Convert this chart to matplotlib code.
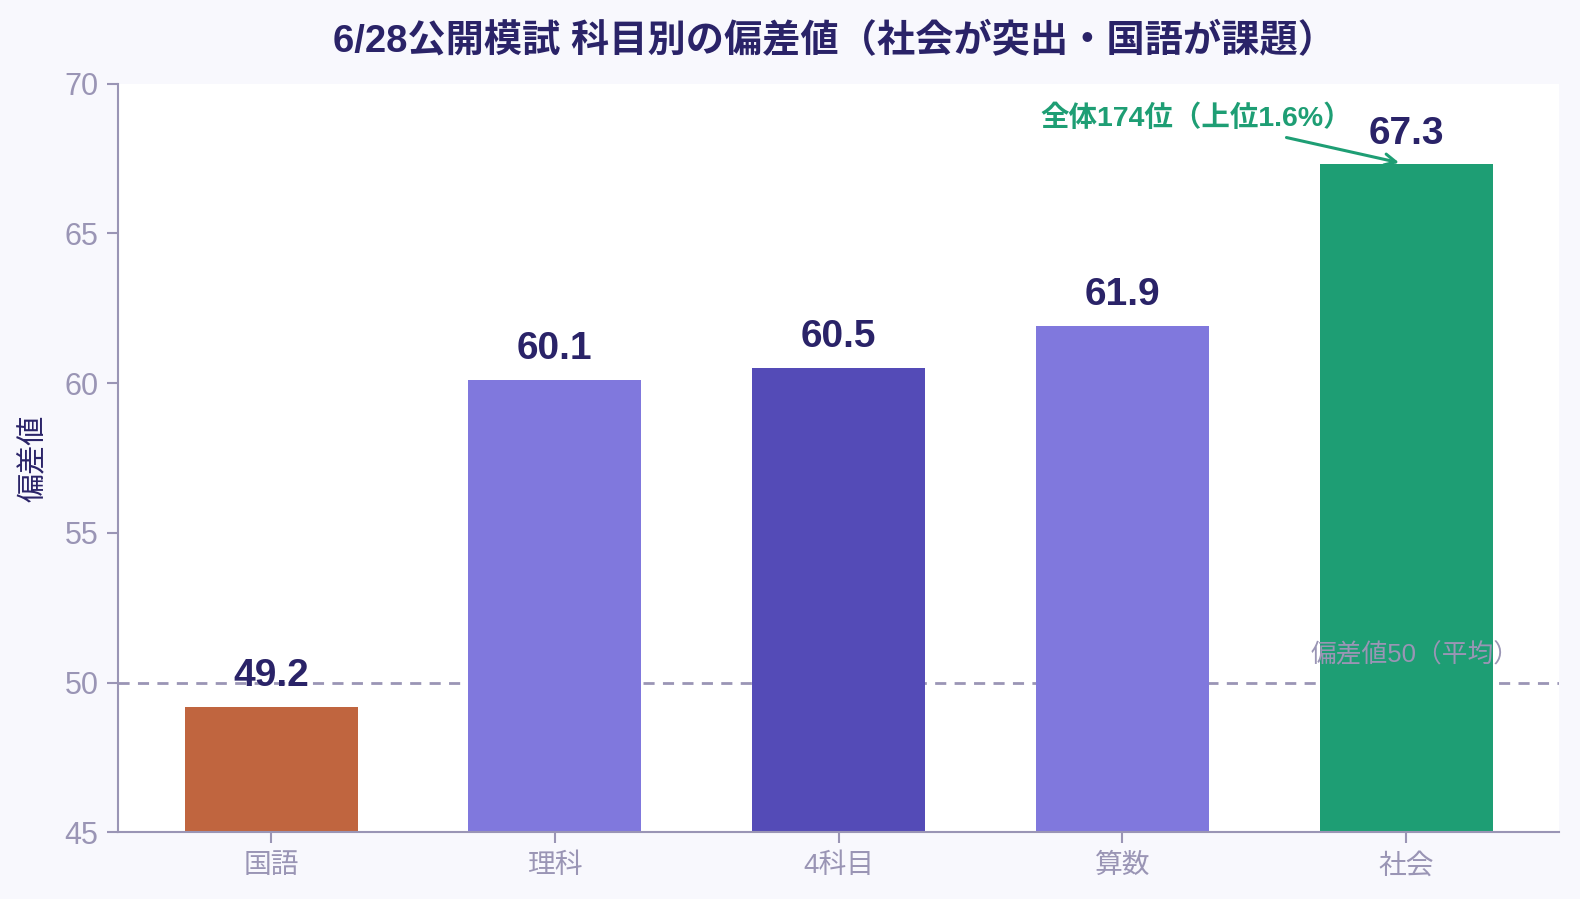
import matplotlib
matplotlib.use("Agg")
import matplotlib.pyplot as plt

# 数字は Liberation Sans、和文は Noto Sans CJK JP にフォールバック
plt.rcParams["font.family"] = ["Liberation Sans", "Noto Sans CJK JP", "DejaVu Sans"]

# データ
subjects = ["国語", "理科", "4科目", "算数", "社会"]
scores = [49.2, 60.1, 60.5, 61.9, 67.3]
bar_colors = ["#C0653F", "#8078DD", "#544BB7", "#8078DD", "#1E9E74"]
yticks = [45, 50, 55, 60, 65, 70]
avg_line = 50
rank_note = "全体174位（上位1.6%）"

NAVY = "#2A2368"
GRAY = "#9A95B5"
GREEN = "#1E9E74"

fig = plt.figure(figsize=(15.8, 8.99), dpi=100, facecolor="#F8F8FD")
ax = fig.add_axes([0.0746, 0.074, 0.9124, 0.833])
ax.set_facecolor("white")

x = range(len(subjects))
bars = ax.bar(x, scores, width=0.61, color=bar_colors, zorder=2)

# 平均線
ax.axhline(avg_line, color=GRAY, linestyle=(0, (4, 3)), linewidth=2, zorder=1)
ax.text(4.03, avg_line + 0.92, "偏差値50（平均）", ha="center", va="center",
        color=GRAY, fontsize=18.5, zorder=3)

for b, v in zip(bars, scores):
    ax.annotate(f"{v:.1f}", (b.get_x() + b.get_width() / 2, v),
                textcoords="offset points", xytext=(0, 15),
                ha="center", va="baseline", color=NAVY,
                fontsize=28, fontweight="bold", zorder=4)

# 社会の注記
ax.text(3.81, 68.85, rank_note, ha="right", va="center", color=GREEN,
        fontsize=20.5, fontweight="bold")
ax.annotate("", xy=(3.975, 67.36), xytext=(3.578, 68.2),
            arrowprops=dict(arrowstyle="->", color=GREEN, lw=2.2,
                            shrinkA=0, shrinkB=0, mutation_scale=20))

ax.set_xlim(-0.54, 4.54)
ax.set_ylim(45, 70)
ax.set_yticks(yticks)
ax.set_xticks(list(x))
ax.set_xticklabels(subjects)
ax.tick_params(colors=GRAY, length=8, width=1.5)
ax.tick_params(axis="y", labelsize=22, pad=6)
ax.tick_params(axis="x", labelsize=20, pad=7)
for s in ["top", "right"]:
    ax.spines[s].set_visible(False)
for s in ["left", "bottom"]:
    ax.spines[s].set_color(GRAY)
    ax.spines[s].set_linewidth(1.5)

ax.set_ylabel("偏差値", color=NAVY, fontsize=21)
ax.yaxis.set_label_coords(-0.0489, 0.5)
fig.text(0.528, 0.954, "6/28公開模試 科目別の偏差値（社会が突出・国語が課題）",
         ha="center", va="center", color=NAVY, fontsize=27.5, fontweight="bold")

fig.savefig("out.png", facecolor=fig.get_facecolor())
